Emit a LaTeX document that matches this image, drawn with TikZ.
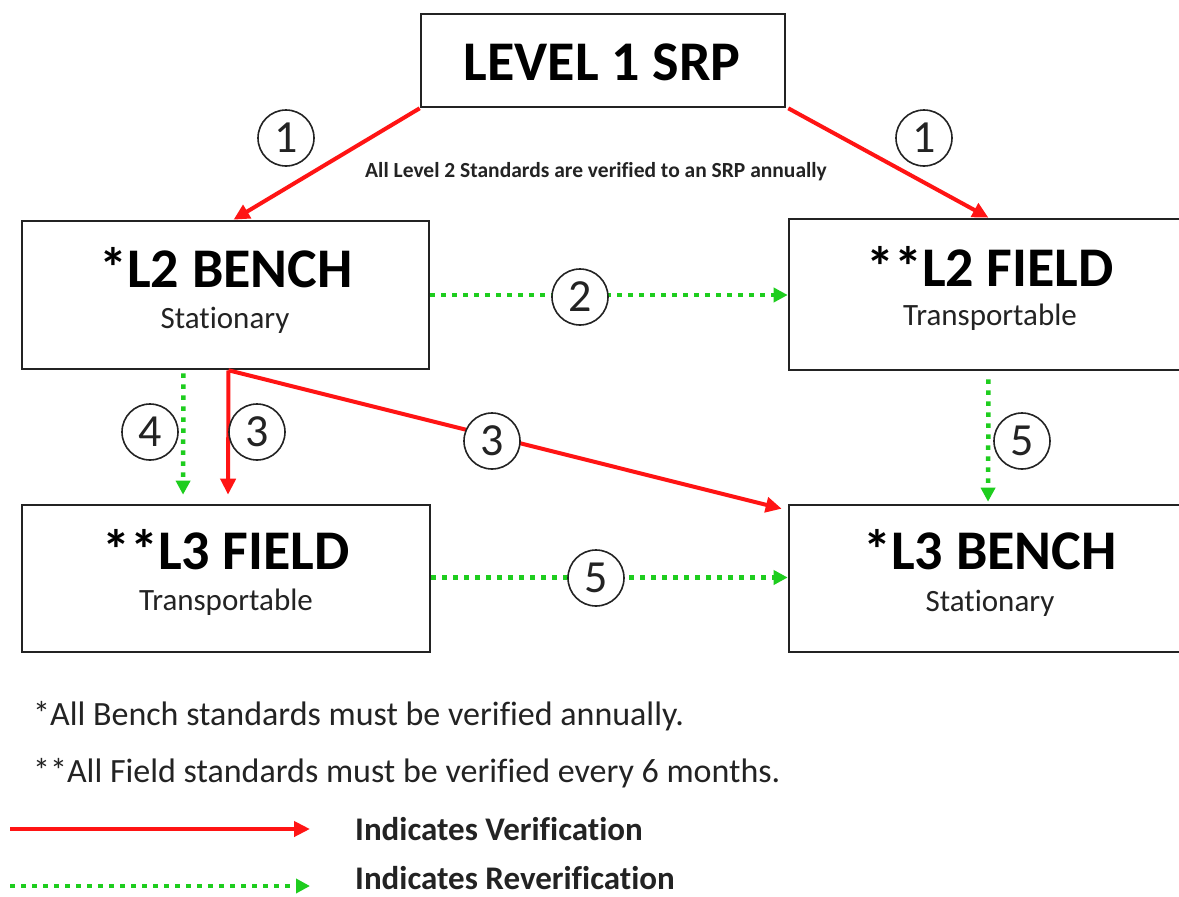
\documentclass[tikz,border=0pt]{standalone}
\usepackage{fontspec}
\setmainfont{Carlito}[Ligatures=NoCommon]
\usetikzlibrary{arrows.meta}

\definecolor{vred}{RGB}{255,20,20}
\definecolor{vgreen}{RGB}{30,205,30}
\definecolor{ink}{RGB}{35,35,35}

\tikzset{
  box/.style={draw=ink, line width=2.6pt, fill=white, inner sep=0pt},
  title/.style={font=\fontsize{56}{60}\selectfont\bfseries, text=black, inner sep=0pt},
  subtitle/.style={font=\fontsize{31}{34}\selectfont, text=ink, inner sep=0pt},
  num/.style={circle, draw=ink, line width=1.6pt, fill=white, minimum size=56pt,
              inner sep=0pt, font=\fontsize{46}{48}\selectfont, text=ink},
  verify/.style={draw=vred, line width=4pt,
                 -{Triangle[length=16pt,width=15pt]}},
  reverify/.style={draw=vgreen, line width=4.5pt, dash pattern=on 4.5pt off 6.5pt,
                 -{Triangle[length=14pt,width=14pt]}},
  note/.style={font=\fontsize{34}{36}\selectfont, text=ink, anchor=west, inner sep=0pt},
  legend/.style={font=\fontsize{33}{35}\selectfont\bfseries, text=ink, anchor=west, inner sep=0pt},
}

\begin{document}
\begin{tikzpicture}[x=1pt, y=-1pt]
  \useasboundingbox (0,0) rectangle (1179,897);
  \fill[white] (0,0) rectangle (1179,897);

  % standards boxes
  \node[box, minimum width=364pt, minimum height=93pt]  (l1) at (603,60.5) {};
  \node[box, minimum width=407pt, minimum height=148pt] (b2) at (225.5,295) {};
  \node[box, minimum width=407pt, minimum height=151pt] (f2) at (992.5,294.5) {};
  \node[box, minimum width=408pt, minimum height=147pt] (f3) at (226,578.5) {};
  \node[box, minimum width=408pt, minimum height=147pt] (b3) at (993,578.5) {};

  % box texts
  \node[title] (l1t) at (602,62) {LEVEL 1 SRP};
  \node[title] (b2t) at (226,268) {*L2 BENCH};
  \node[subtitle] (b2s) at (225,320) {Stationary};
  \node[title] (f2t) at (990,266) {**L2 FIELD};
  \node[subtitle] (f2s) at (990,317) {Transportable};
  \node[title] (f3t) at (226,550) {**L3 FIELD};
  \node[subtitle] (f3s) at (226,602) {Transportable};
  \node[title] (b3t) at (990,550) {*L3 BENCH};
  \node[subtitle] (b3s) at (990,603) {Stationary};

  \node[font=\fontsize{21.5}{23}\selectfont\bfseries, text=ink] (cap) at (596,172)
    {All Level 2 Standards are verified to an SRP annually};

  % verification arrows
  \draw[verify] (l1.south west) -- ([xshift=8pt]b2.north);
  \draw[verify] ([xshift=2pt]l1.south east) -- ([xshift=-4pt]f2.north);
  \draw[verify, shorten >=9pt] ([xshift=3pt]b2.south) -- ([xshift=2pt]f3.north);
  \draw[verify] ([xshift=3pt]b2.south) -- ([xshift=-6pt,yshift=-5pt]b3.north west);

  % reverification arrows
  \draw[reverify] (b2.east) -- (b2.east -| f2.west);
  \draw[reverify, shorten <=3pt, shorten >=9pt] ([xshift=-42pt]b2.south) -- ([xshift=-43pt]f3.north);
  \draw[reverify, shorten <=8pt, shorten >=2pt] ([xshift=-4pt]f2.south) -- ([xshift=-5pt]b3.north);
  \draw[reverify] ([yshift=1pt]f3.east) -- ([yshift=1pt]f3.east -| b3.west);

  % step numbers
  \node[num] (n1a) at (286,138) {1};
  \node[num] (n1b) at (924,138) {1};
  \node[num] (n2)  at (580,297) {2};
  \node[num] (n4)  at (150,432) {4};
  \node[num] (n3a) at (257,432) {3};
  \node[num] (n3b) at (492,441) {3};
  \node[num] (n5a) at (1022,441) {5};
  \node[num] (n5b) at (596,578) {5};

  % notes
  \node[note] (nb) at (33,716) {*All Bench standards must be verified annually.};
  \node[note] (nf) at (33,773) {**All Field standards must be verified every 6 months.};

  % legend
  \coordinate (lva) at (10,829);
  \coordinate (lvb) at (310,829);
  \coordinate (lra) at (10,886);
  \coordinate (lrb) at (310,886);
  \draw[verify] (lva) -- (lvb);
  \draw[reverify] (lra) -- (lrb);
  \node[legend] (lvt) at (355,829) {Indicates Verification};
  \node[legend] (lrt) at (355,878) {Indicates Reverification};
\end{tikzpicture}
\end{document}
